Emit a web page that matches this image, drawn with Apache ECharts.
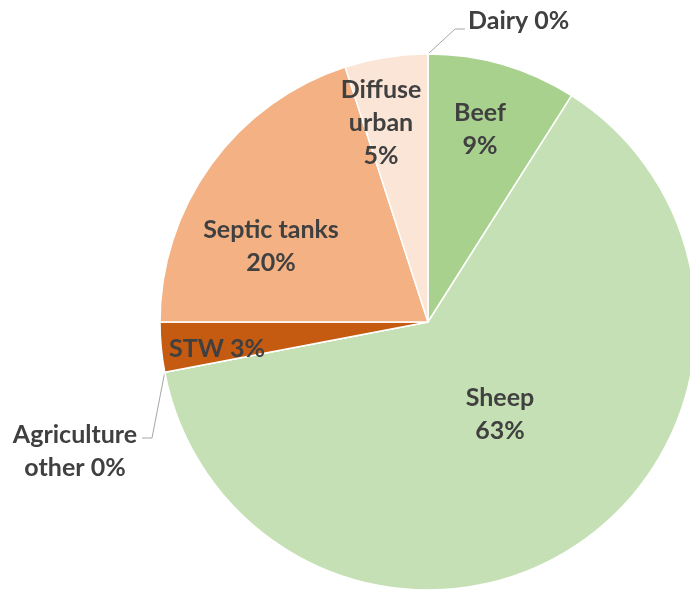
<!DOCTYPE html>
<html>
<head>
<meta charset="utf-8">
<script src="https://cdn.jsdelivr.net/npm/echarts@6/dist/echarts.min.js"></script>
<style>
  html, body { margin: 0; padding: 0; background: #ffffff; }
  #chart { width: 690px; height: 590px; }
</style>
</head>
<body>
<div id="chart"></div>
<script>
// Source shares (%) in clockwise order from 12 o'clock
const categories = ['Dairy', 'Beef', 'Sheep', 'Agriculture other', 'STW', 'Septic tanks', 'Diffuse urban'];
const shares = [0, 9, 63, 0, 3, 20, 5];
const sliceColors = ['#70AD47', '#A9D18E', '#C5E0B4', '#548235', '#C55A11', '#F4B183', '#FBE5D6'];

// How each label's text is broken into lines
const labelText = {
  'Dairy': n => 'Dairy ' + n + '%',
  'Agriculture other': n => 'Agriculture\nother ' + n + '%',
  'STW': n => 'STW ' + n + '%',
  'Diffuse urban': n => 'Diffuse\nurban\n' + n + '%'
};

// Label placement (pixels) and leader-line elbows for the outside labels
const labelSpots = {
  'Dairy': { x: 468, y: 21, align: 'left', line: [[455, 29], [465, 29]] },
  'Beef': { x: 480, y: 129 },
  'Sheep': { x: 500, y: 414 },
  'Agriculture other': { x: 75, y: 451, line: [[152, 438], [142, 438]] },
  'STW': { x: 217, y: 349 },
  'Septic tanks': { x: 271, y: 246 },
  'Diffuse urban': { x: 381, y: 123 }
};

const chart = echarts.init(document.getElementById('chart'), null, { renderer: 'canvas' });

const pieData = categories.map((name, i) => {
  const outside = !!labelSpots[name].line;
  return {
    name: name,
    value: shares[i],
    itemStyle: { color: sliceColors[i] },
    label: { position: outside ? 'outside' : 'inside' },
    labelLine: { show: outside }
  };
});

chart.setOption({
  backgroundColor: '#ffffff',
  animation: false,
  series: [{
    type: 'pie',
    center: [428, 322],
    radius: 268,
    startAngle: 90,
    clockwise: true,
    avoidLabelOverlap: false,
    minShowLabelAngle: 0,
    itemStyle: { borderColor: '#ffffff', borderWidth: 1.5 },
    label: {
      show: true,
      color: '#404040',
      fontFamily: 'Lato',
      fontWeight: 'bold',
      fontSize: 25,
      lineHeight: 33,
      align: 'center',
      formatter: p => (labelText[p.name] ? labelText[p.name](p.value) : p.name + '\n' + p.value + '%')
    },
    labelLine: {
      lineStyle: { color: '#A6A6A6', width: 1 },
      length: 10,
      length2: 10
    },
    labelLayout: function (params) {
      const name = categories[params.dataIndex];
      const spot = labelSpots[name];
      const out = {
        x: spot.x,
        y: spot.y,
        align: spot.align || 'center',
        verticalAlign: 'middle'
      };
      if (spot.line && params.labelLinePoints) {
        out.labelLinePoints = [params.labelLinePoints[0]].concat(spot.line);
      }
      return out;
    },
    data: pieData
  }]
});
</script>
</body>
</html>
